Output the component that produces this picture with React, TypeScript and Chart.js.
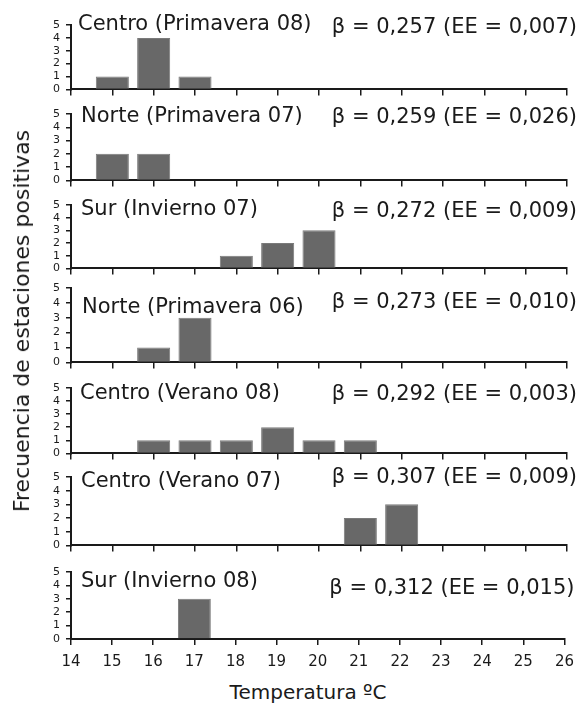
import React, { useEffect, useRef } from "react";
import { Chart, registerables } from "chart.js";

Chart.register(...registerables);

// ---- Data ----
const temperatures = ["14", "15", "16", "17", "18", "19", "20", "21", "22", "23", "24", "25", "26"];
const yTicks = [0, 1, 2, 3, 4, 5];

const panelTitles = [
  "Centro (Primavera 08)",
  "Norte (Primavera 07)",
  "Sur (Invierno 07)",
  "Norte (Primavera 06)",
  "Centro (Verano 08)",
  "Centro (Verano 07)",
  "Sur (Invierno 08)",
];
const betaLabels = [
  "β = 0,257 (EE = 0,007)",
  "β = 0,259 (EE = 0,026)",
  "β = 0,272 (EE = 0,009)",
  "β = 0,273 (EE = 0,010)",
  "β = 0,292 (EE = 0,003)",
  "β = 0,307 (EE = 0,009)",
  "β = 0,312 (EE = 0,015)",
];
//                         14 15 16 17 18 19 20 21 22 23 24 25 26
const centroPrimavera08 = [0, 1, 4, 1, 0, 0, 0, 0, 0, 0, 0, 0, 0];
const nortePrimavera07 = [0, 2, 2, 0, 0, 0, 0, 0, 0, 0, 0, 0, 0];
const surInvierno07 = [0, 0, 0, 0, 1, 2, 3, 0, 0, 0, 0, 0, 0];
const nortePrimavera06 = [0, 0, 1, 3, 0, 0, 0, 0, 0, 0, 0, 0, 0];
const centroVerano08 = [0, 0, 1, 1, 1, 2, 1, 1, 0, 0, 0, 0, 0];
const centroVerano07 = [0, 0, 0, 0, 0, 0, 0, 2, 3, 0, 0, 0, 0];
const surInvierno08 = [0, 0, 0, 3, 0, 0, 0, 0, 0, 0, 0, 0, 0];

const panelSeries = [
  centroPrimavera08,
  nortePrimavera07,
  surInvierno07,
  nortePrimavera06,
  centroVerano08,
  centroVerano07,
  surInvierno08,
];

const yAxisTitle = "Frecuencia de estaciones positivas";
const xAxisTitle = "Temperatura ºC";

// ---- Layout (pixels) ----
const PLOT_TOPS = [25, 114, 205, 288, 388, 477, 572];
const PLOT_BOTTOMS = [92, 183, 271, 365, 456, 548, 639];
const TITLE_DX = [7, 10, 10, 11, 9, 10, 10];
const TITLE_DY = [5, 8, 10, 25, 11, 10, 15];
const BETA_DY = [8, 9, 12, 20, 12, 6, 22];
const PAD_TOP = 22;
const FONT = "DejaVu Sans";
const INK = "#1a1a1a";

function Panel({ index }: { index: number }) {
  const ref = useRef<HTMLCanvasElement | null>(null);
  const isLast = index === panelSeries.length - 1;
  const plotH = PLOT_BOTTOMS[index] - PLOT_TOPS[index];
  const xAxisH = isLast ? 40 : 10;
  const canvasH = PAD_TOP + plotH + xAxisH;
  const top = PLOT_TOPS[index] - PAD_TOP;

  useEffect(() => {
    const canvas = ref.current;
    if (!canvas) return;
    const textPlugin = {
      id: "panelText",
      afterDraw(chart: any) {
        const { ctx, chartArea } = chart;
        ctx.save();
        ctx.fillStyle = INK;
        ctx.font = `21px "${FONT}"`;
        ctx.textBaseline = "alphabetic";
        ctx.textAlign = "left";
        ctx.fillText(panelTitles[index], chartArea.left + TITLE_DX[index], chartArea.top + TITLE_DY[index]);
        ctx.textAlign = "right";
        ctx.fillText(betaLabels[index], chartArea.right + 10, chartArea.top + BETA_DY[index]);
        ctx.restore();
      },
    };
    const chart = new Chart(canvas, {
      type: "bar",
      data: {
        labels: temperatures,
        datasets: [
          {
            data: panelSeries[index].map((v) => (v === 0 ? null : v)),
            backgroundColor: "#686868",
            borderColor: "#7a7a7a",
            borderWidth: 1,
            barPercentage: 0.8,
            categoryPercentage: 1,
          },
        ],
      },
      options: {
        animation: false,
        responsive: false,
        events: [],
        layout: { padding: { top: PAD_TOP, right: 15, left: 0, bottom: 0 } },
        plugins: { legend: { display: false }, tooltip: { enabled: false }, title: { display: false } },
        scales: {
          x: {
            type: "category",
            offset: false,
            grid: { offset: false, drawOnChartArea: false, drawTicks: true, tickLength: 6, color: INK, lineWidth: 1.5 },
            border: { display: true, color: INK, width: 2 },
            ticks: {
              display: isLast,
              autoSkip: false,
              maxRotation: 0,
              padding: 8,
              color: INK,
              font: { family: FONT, size: 15 },
            },
            afterFit: (scale: any) => {
              scale.height = xAxisH;
            },
          },
          y: {
            min: yTicks[0],
            max: yTicks[yTicks.length - 1],
            grid: { drawOnChartArea: false, drawTicks: true, tickLength: 5, color: INK, lineWidth: 1.5 },
            border: { display: true, color: INK, width: 2 },
            ticks: {
              stepSize: 1,
              autoSkip: false,
              padding: 6,
              color: INK,
              font: { family: FONT, size: 11 },
            },
            afterFit: (scale: any) => {
              scale.width = 71;
            },
          },
        },
      },
      plugins: [textPlugin],
    } as any);
    return () => chart.destroy();
  }, [index]);

  return (
    <canvas
      ref={ref}
      width={582}
      height={canvasH}
      style={{ position: "absolute", left: 0, top, width: 582, height: canvasH }}
    />
  );
}

export default function App() {
  return (
    <div
      style={{
        position: "fixed",
        left: 0,
        top: 0,
        width: 582,
        height: 704,
        background: "#ffffff",
        overflow: "hidden",
        fontFamily: FONT,
        color: INK,
      }}
    >
      {panelSeries.map((_, i) => (
        <Panel key={i} index={i} />
      ))}
      <div
        style={{
          position: "absolute",
          left: 22,
          top: 321,
          transform: "translate(-50%, -50%) rotate(-90deg)",
          whiteSpace: "nowrap",
          fontSize: 22,
          lineHeight: "26px",
        }}
      >
        {yAxisTitle}
      </div>
      <div
        style={{
          position: "absolute",
          left: 308,
          top: 692,
          transform: "translate(-50%, -50%)",
          whiteSpace: "nowrap",
          fontSize: 20,
          lineHeight: "24px",
        }}
      >
        {xAxisTitle}
      </div>
    </div>
  );
}
